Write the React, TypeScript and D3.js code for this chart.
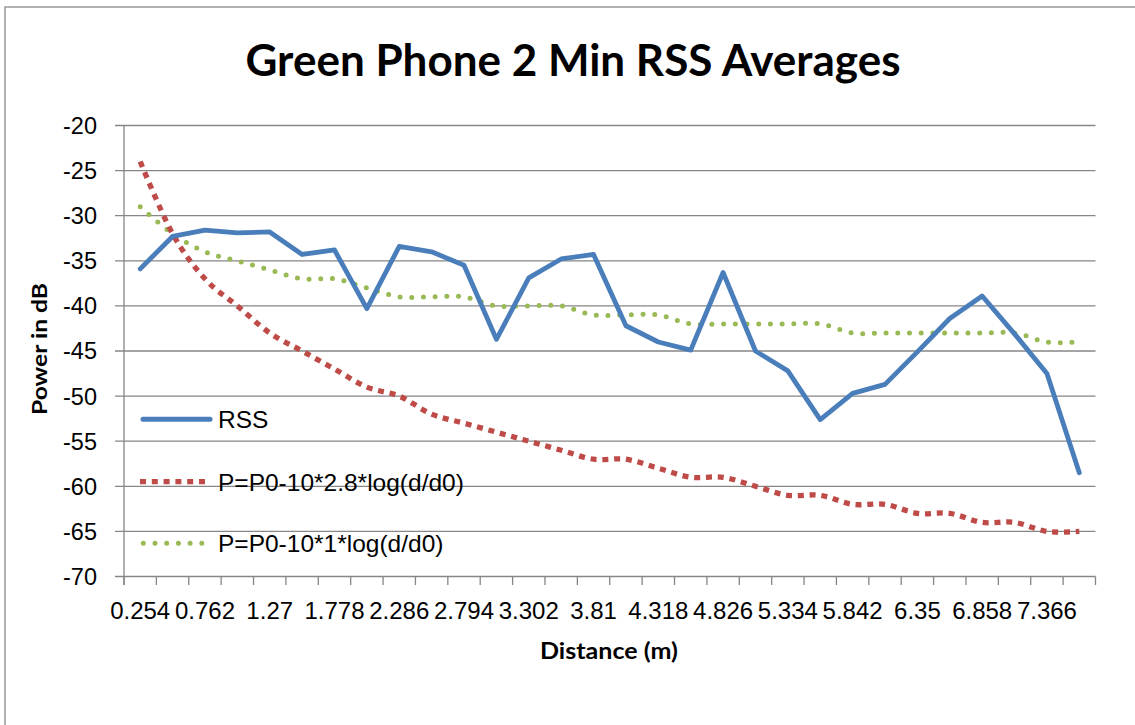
import React from "react";
import * as d3 from "d3";

const categories = ["0.254","0.508","0.762","1.016","1.27","1.524","1.778","2.032","2.286","2.54","2.794","3.048","3.302","3.556","3.81","4.064","4.318","4.572","4.826","5.08","5.334","5.588","5.842","6.096","6.35","6.604","6.858","7.112","7.366","7.62"];
const rss = [-35.9,-32.3,-31.6,-31.9,-31.8,-34.3,-33.8,-40.3,-33.4,-34.0,-35.5,-43.7,-36.9,-34.8,-34.3,-42.2,-44.0,-44.9,-36.3,-45.0,-47.2,-52.6,-49.7,-48.7,-45.1,-41.4,-38.9,-43.1,-47.5,-58.5];
const model28 = [-24,-32,-37,-40,-43,-45,-47,-49,-50,-52,-53,-54,-55,-56,-57,-57,-58,-59,-59,-60,-61,-61,-62,-62,-63,-63,-64,-64,-65,-65];
const model10 = [-29,-32,-34,-35,-36,-37,-37,-38,-39,-39,-39,-40,-40,-40,-41,-41,-41,-42,-42,-42,-42,-42,-43,-43,-43,-43,-43,-43,-44,-44];
const yTicks = [-20,-25,-30,-35,-40,-45,-50,-55,-60,-65,-70];
const seriesNames = ["RSS","P=P0-10*2.8*log(d/d0)","P=P0-10*1*log(d/d0)"];

const FONT = "'Liberation Sans', Arial, sans-serif";
const TITLE_FONT = "Lato, 'Liberation Sans', sans-serif";
const GRID = "#868686";
const BLUE = "#4A7EBB";
const RED = "#BE4B48";
const GREEN = "#98B954";

export default function App() {
  const left = 124, right = 1095.5, top = 125.5, bottom = 576.5;
  const x = d3.scaleBand<string>().domain(categories).range([left, right]).padding(0);
  const y = d3.scaleLinear().domain([-70, -20]).range([bottom, top]);
  const cx = (i: number) => (x(categories[i]) as number) + x.bandwidth() / 2;

  const lineStraight = d3.line<number>().x((_, i) => cx(i)).y((d) => y(d));
  const lineSmooth = d3.line<number>().x((_, i) => cx(i)).y((d) => y(d)).curve(d3.curveCardinal.tension(0));

  const tickXs = d3.range(categories.length + 1).map((k) => left + k * x.bandwidth());

  const legendY = [419.3, 481.7, 543.3];

  return (
    <svg width={1135} height={725} style={{ position: "absolute", left: 0, top: 0, background: "#fff" }} fontFamily={FONT}>
      <rect x={0} y={0} width={1135} height={725} fill="#fff" />
      <rect x={5} y={7} width={1200} height={800} fill="none" stroke="#8a8a8a" strokeWidth={1.3} />
      <text x={573} y={76} textAnchor="middle" fontFamily={TITLE_FONT} fontSize={44} fontWeight="bold" textLength={655} lengthAdjust="spacingAndGlyphs" fill="#000">Green Phone 2 Min RSS Averages</text>

      {yTicks.map((t) => (
        <g key={t}>
          <line x1={115} x2={right} y1={y(t)} y2={y(t)} stroke={GRID} strokeWidth={1.3} />
          <text x={97} y={y(t)} dy="0.36em" textAnchor="end" fontSize={23.5} fill="#000">{t}</text>
        </g>
      ))}
      <line x1={left} x2={left} y1={top} y2={585} stroke={GRID} strokeWidth={1.3} />
      {tickXs.map((tx, k) => (
        <line key={k} x1={tx} x2={tx} y1={bottom} y2={585} stroke={GRID} strokeWidth={1.3} />
      ))}
      {categories.map((c, i) => i % 2 === 0 ? (
        <text key={c} x={cx(i)} y={618.5} textAnchor="middle" fontSize={24} fill="#000">{c}</text>
      ) : null)}

      <text transform="translate(47,349) rotate(-90)" textAnchor="middle" fontFamily={TITLE_FONT} fontSize={21} fontWeight="bold" textLength={132} lengthAdjust="spacingAndGlyphs" fill="#000">Power in dB</text>
      <text x={609} y={659} textAnchor="middle" fontFamily={TITLE_FONT} fontSize={23} fontWeight="bold" textLength={138} lengthAdjust="spacingAndGlyphs" fill="#000">Distance (m)</text>

      <path d={lineSmooth(model10) || ""} fill="none" stroke={GREEN} strokeWidth={5} strokeDasharray="0 11.7" strokeLinecap="round" />
      <path d={lineSmooth(model28) || ""} fill="none" stroke={RED} strokeWidth={5.3} strokeDasharray="6 5.8" strokeLinecap="butt" />
      <path d={lineStraight(rss) || ""} fill="none" stroke={BLUE} strokeWidth={4.8} strokeLinejoin="round" strokeLinecap="round" />

      <line x1={143} x2={210} y1={legendY[0]} y2={legendY[0]} stroke={BLUE} strokeWidth={5} strokeLinecap="round" />
      <line x1={140} x2={206} y1={legendY[1]} y2={legendY[1]} stroke={RED} strokeWidth={5.3} strokeDasharray="6 5.8" />
      <line x1={143.3} x2={203} y1={legendY[2]} y2={legendY[2]} stroke={GREEN} strokeWidth={5} strokeDasharray="0 11.7" strokeLinecap="round" />
      {seriesNames.map((n, i) => (
        <text key={n} x={218} y={legendY[i]} dy="0.36em" fontSize={24.5} fill="#000">{n}</text>
      ))}
    </svg>
  );
}
